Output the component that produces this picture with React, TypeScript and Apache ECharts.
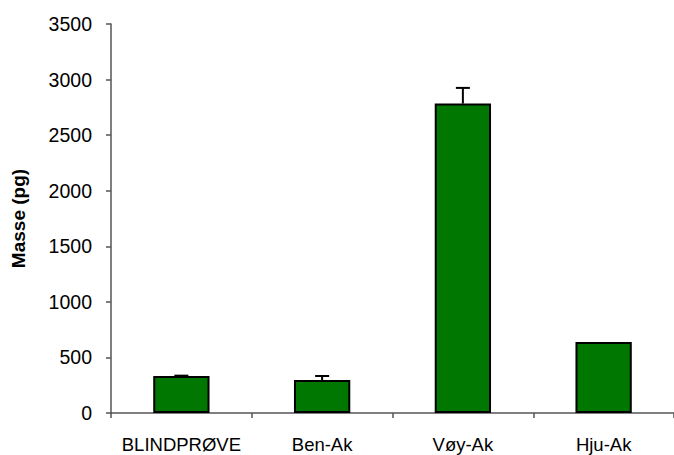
import React, { useEffect, useRef } from "react";
import * as echarts from "echarts";

const categories = ["BLINDPRØVE", "Ben-Ak", "Vøy-Ak", "Hju-Ak"];
const values = [333, 297, 2784, 639];
const errors = [3, 36, 141, 0];
const yTicks = { min: 0, max: 3500, interval: 500 };

export default function App() {
  const ref = useRef<HTMLDivElement>(null);
  useEffect(() => {
    const chart = echarts.init(ref.current!, null, { renderer: "svg" });
    const font = "Liberation Sans, Arial, sans-serif";
    chart.setOption({
      animation: false,
      grid: { left: 111, top: 24, width: 567, height: 389, containLabel: false },
      xAxis: {
        type: "category",
        data: categories,
        axisLine: { lineStyle: { color: "#555", width: 1.5 } },
        axisTick: { show: true, length: 5, lineStyle: { color: "#555", width: 1.5 } },
        axisLabel: { color: "#000", fontSize: 18.5, fontFamily: font, margin: 22, interval: 0 },
      },
      yAxis: {
        type: "value",
        min: yTicks.min,
        max: yTicks.max,
        interval: yTicks.interval,
        name: "Masse (pg)",
        nameLocation: "middle",
        nameGap: 83,
        nameTextStyle: { color: "#000", fontSize: 19, fontWeight: "bold", fontFamily: font },
        axisLine: { show: true, lineStyle: { color: "#555", width: 1.5 } },
        axisTick: { show: true, length: 5, lineStyle: { color: "#555", width: 1.5 } },
        axisLabel: { color: "#000", fontSize: 19.5, fontFamily: font, margin: 19, formatter: (v: number) => String(v) },
        splitLine: { show: false },
      },
      series: [
        {
          type: "bar",
          data: values,
          barWidth: "40%",
          itemStyle: { color: "#007700", borderColor: "#000", borderWidth: 2 },
        },
        {
          type: "custom",
          data: values.map((v, i) => [i, v, v + errors[i]]),
          z: 10,
          renderItem: (params: any, api: any) => {
            const x = api.value(0);
            const lo = api.coord([x, api.value(1)]);
            const hi = api.coord([x, api.value(2)]);
            if (api.value(2) - api.value(1) <= 0) return { type: "group", children: [] };
            const hw = 7;
            return {
              type: "group",
              children: [
                { type: "line", shape: { x1: lo[0], y1: lo[1], x2: hi[0], y2: hi[1] }, style: { stroke: "#000", lineWidth: 2 } },
                { type: "line", shape: { x1: hi[0] - hw, y1: hi[1], x2: hi[0] + hw, y2: hi[1] }, style: { stroke: "#000", lineWidth: 2 } },
              ],
            };
          },
        },
      ],
    });
    return () => chart.dispose();
  }, []);
  return <div ref={ref} style={{ width: 674, height: 455, position: "absolute", left: 0, top: 0 }} />;
}
